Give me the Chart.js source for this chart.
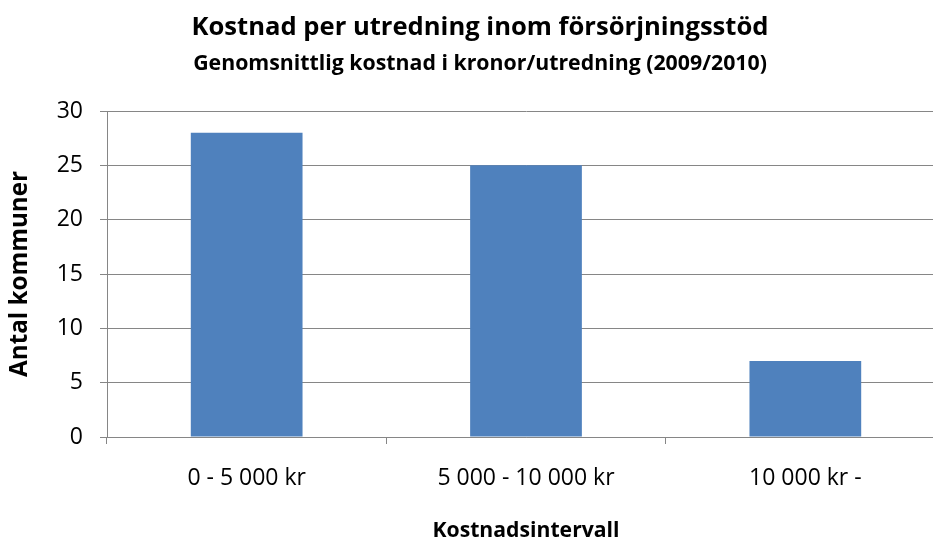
<!DOCTYPE html>
<html>
<head>
<meta charset="utf-8">
<title>Kostnad per utredning inom försörjningsstöd</title>
<script src="https://cdn.jsdelivr.net/npm/chart.js@4/dist/chart.umd.min.js"></script>
<style>
  html, body { margin: 0; padding: 0; background: #fff; }
  #wrap { width: 933px; height: 542px; overflow: hidden; position: relative; }
  #chart { position: absolute; left: 0; top: 0; }
</style>
</head>
<body>
<div id="wrap">
  <canvas id="chart" width="985" height="542"></canvas>
</div>
<script>
// data
var categories = ['0 - 5 000 kr', '5 000 - 10 000 kr', '10 000 kr -'];
var antalKommuner = [28, 25, 7];

var chartTitle = 'Kostnad per utredning inom försörjningsstöd';
var chartSubtitle = 'Genomsnittlig kostnad i kronor/utredning (2009/2010)';
var xTitle = 'Kostnadsintervall';
var yTitle = 'Antal kommuner';

var axisGrey = '#868686';
var barBlue = '#4F81BD';
var fontFam = '"Open Sans", "Noto Sans", sans-serif';

// original used Calibri, so size the replacement font to the same text widths
var measureCtx = document.createElement('canvas').getContext('2d');
function fitSize(text, weight, width) {
  measureCtx.font = weight + ' 100px ' + fontFam;
  return Math.round(1000 * width / measureCtx.measureText(text).width) / 10;
}
var titleSize = fitSize(chartTitle, 'bold', 578);
var subSize = fitSize(chartSubtitle, 'bold', 575);
var xTitleSize = fitSize(xTitle, 'bold', 187);
var yTitleSize = fitSize(yTitle, 'bold', 206);
var tickSize = fitSize(categories[1], 'normal', 177);

// text is drawn on its middle line, ~0.39em above the baseline
var titleTop = 38 - 0.39 * titleSize - 0.6 * titleSize;
var subTop = 72 - 0.39 * subSize - 0.6 * subSize;
var subPadTop = subTop - (titleTop + 1.2 * titleSize);
var subPadBottom = 111 - (subTop + 1.2 * subSize);
var tickPad = 487 - 0.39 * tickSize - 0.6 * tickSize - 444;

var ctx = document.getElementById('chart');
var myBarChart = new Chart(ctx, {
  type: 'bar',
  data: {
    labels: categories,
    datasets: [{
      label: yTitle,
      data: antalKommuner,
      backgroundColor: barBlue,
      borderWidth: 0,
      categoryPercentage: 1.0,
      barPercentage: 0.4
    }]
  },
  options: {
    responsive: false,
    animation: false,
    devicePixelRatio: 1,
    layout: {
      padding: { left: 15, right: 40, top: 0, bottom: 0 }
    },
    plugins: {
      legend: { display: false },
      tooltip: { enabled: false },
      title: {
        display: true,
        text: chartTitle,
        color: '#000',
        font: { family: fontFam, size: titleSize, weight: 'bold', lineHeight: 1.2 },
        padding: { top: titleTop, bottom: 0 }
      },
      subtitle: {
        display: true,
        text: chartSubtitle,
        color: '#000',
        font: { family: fontFam, size: subSize, weight: 'bold', lineHeight: 1.2 },
        padding: { top: subPadTop, bottom: subPadBottom }
      }
    },
    scales: {
      x: {
        grid: {
          display: true,
          offset: true,
          drawOnChartArea: false,
          drawTicks: true,
          tickLength: 7,
          color: axisGrey,
          lineWidth: 1
        },
        border: { display: true, color: axisGrey, width: 1 },
        ticks: {
          color: '#000',
          padding: tickPad,
          font: { family: fontFam, size: tickSize },
          maxRotation: 0
        },
        title: {
          display: true,
          text: xTitle,
          color: '#000',
          font: { family: fontFam, size: xTitleSize, weight: 'bold', lineHeight: 1.0 },
          padding: { top: 0, bottom: 0 }
        },
        afterFit: function(scale) { scale.height = 105; }
      },
      y: {
        min: 0,
        max: 30,
        grid: {
          color: axisGrey,
          lineWidth: 1,
          drawTicks: true,
          tickLength: 7
        },
        border: { display: true, color: axisGrey, width: 1 },
        ticks: {
          stepSize: 5,
          color: '#000',
          padding: 17,
          font: { family: fontFam, size: tickSize }
        },
        title: {
          display: true,
          text: yTitle,
          color: '#000',
          font: { family: fontFam, size: yTitleSize, weight: 'bold', lineHeight: 1.2 },
          padding: { top: 20 - 15 - 0.6 * yTitleSize, bottom: 0 }
        },
        afterFit: function(scale) { scale.width = 92; }
      }
    }
  }
});
</script>
</body>
</html>
